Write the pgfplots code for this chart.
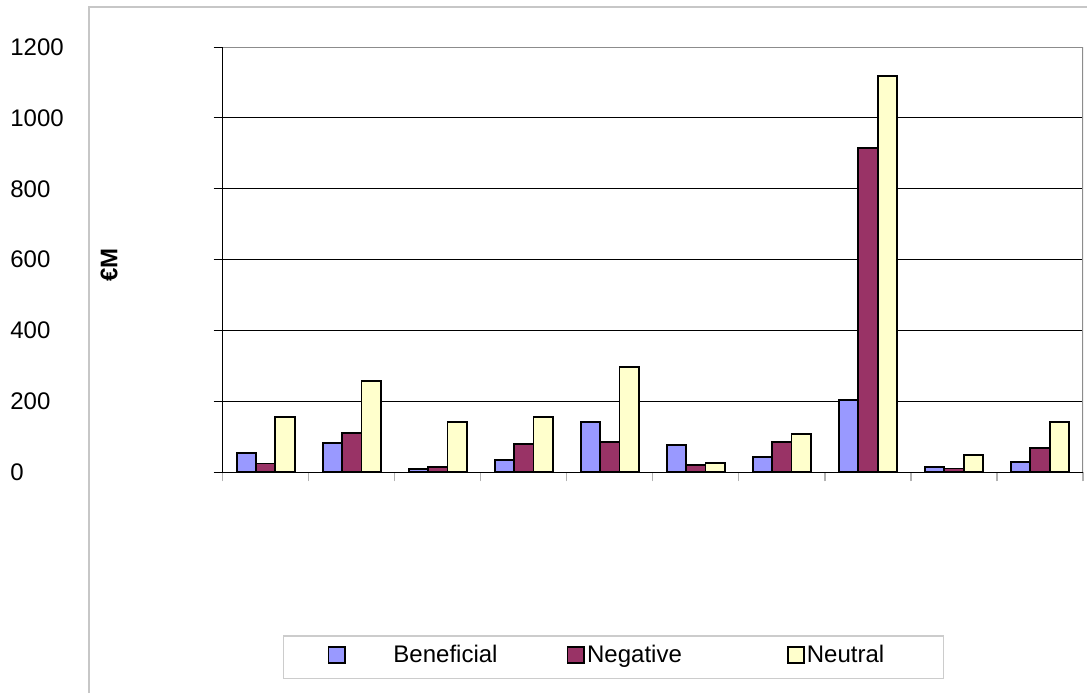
\documentclass[border=0pt]{standalone}
\usepackage{fontspec}
\setmainfont{Liberation Sans}
\usepackage{pgfplots}
\pgfplotsset{compat=1.18}
\usepackage{pgfplotstable}

\definecolor{benef}{RGB}{153,153,255}
\definecolor{negat}{RGB}{153,51,102}
\definecolor{neutr}{RGB}{255,255,204}
\newcommand{\chartfont}{\fontsize{12pt}{14.4pt}\selectfont}

% cat  beneficial  negative  neutral   (EUR million)
\pgfplotstableread{
cat ben neg neu
1   54   25   157
2   82   110  257
3   9    16   141
4   35   79   157
5   141  85   298
6   77   21   27
7   44   85   108
8   204  916  1118
9   16   11   49
10  28   69   143
}\impacts

\begin{document}
\begin{tikzpicture}
\useasboundingbox (0pt,0pt) rectangle (543.5pt,-346.5pt);
% outer chart frame
\draw[black!22, line width=1pt] (44.5pt,-346.5pt) -- (44.5pt,-3.65pt) -- (543.5pt,-3.65pt);
% legend frame
\draw[black!20, line width=0.6pt] (141.65pt,-318pt) rectangle (471.65pt,-339.15pt);
\begin{axis}[
  at={(111.35pt,-236.15pt)}, anchor=south west,
  scale only axis, width=430.15pt, height=212.65pt,
  ybar=0pt, bar width=0.225,
  every axis plot post/.append style={
    legend image code/.code={\draw[##1, line width=0.9pt] (0pt,-4.1pt) rectangle (8.2pt,4.1pt);}},
  xmin=0.5, xmax=10.5, ymin=0, ymax=1200,
  xtick={0.5,1.5,...,10.5}, xticklabels={},
  ytick={0,200,...,1200},
  tick align=outside, major tick length=4.5pt,
  xtick style={black!30, line width=0.6pt},
  ytick style={black, line width=0.5pt},
  axis lines*=left,
  axis line style={black, line width=0.6pt, -},
  ymajorgrids, major grid style={black, line width=0.5pt},
  /pgf/number format/assume math mode=true,
  /pgf/number format/1000 sep={},
  yticklabel style={font=\chartfont, anchor=west, inner sep=0pt, xshift=-101.85pt},
  ylabel={\textbf{€M}},
  ylabel style={font=\chartfont, at={(axis description cs:-0.132,0.487)}, anchor=center},
  legend columns=3,
  legend style={draw=none, fill=none, font=\chartfont, column sep=0pt,
    nodes={inner sep=0pt},
    at={(axis description cs:0.1146,-0.4296)}, anchor=west},
  legend cell align=left,
]
\addplot[draw=black, line width=0.9pt, fill=benef] table[x=cat, y=ben] {\impacts};
\addplot[draw=black, line width=0.9pt, fill=negat] table[x=cat, y=neg] {\impacts};
\addplot[draw=black, line width=0.9pt, fill=neutr] table[x=cat, y=neu] {\impacts};
\legend{\hspace*{23.8pt}Beneficial\hspace*{34.5pt}, \hspace*{1.2pt}Negative\hspace*{52.6pt}, \hspace*{0.8pt}Neutral}
% plot-area border on the top and right
\draw[black!45, line width=1pt] (rel axis cs:0,1) -- (rel axis cs:1,1) -- (rel axis cs:1,0);
\end{axis}
\end{tikzpicture}
\end{document}
